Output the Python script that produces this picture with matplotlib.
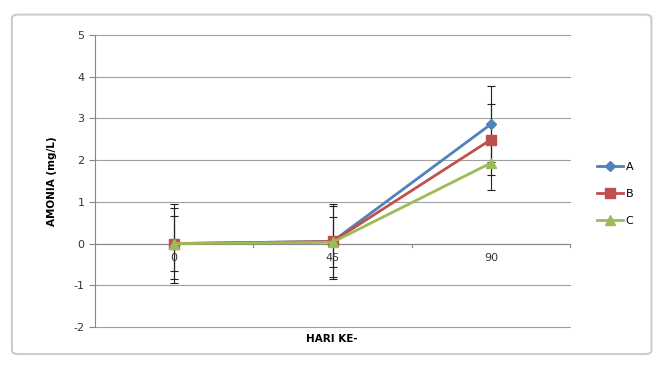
import matplotlib.pyplot as plt
from matplotlib.patches import FancyBboxPatch
from matplotlib.lines import Line2D

plt.rcParams['axes.unicode_minus'] = False

days = ['0', '45', '90']
a_vals = [0.0, 0.05, 2.86]
b_vals = [0.0, 0.05, 2.49]
c_vals = [0.0, 0.03, 1.93]
a_err = [0.95, 0.9, 0.91]
b_err = [0.85, 0.85, 0.85]
c_err = [0.65, 0.6, 0.65]

fig = plt.figure(figsize=(6.62, 3.65), dpi=100)
fig.patches.append(FancyBboxPatch((0.018, 0.03), 0.966, 0.93, boxstyle='round,pad=0,rounding_size=0.01',
                                  transform=fig.transFigure, fc='none', ec='#cccccc', lw=1.5, zorder=-1))
ax = fig.add_axes([95 / 662, 1 - 327 / 365, 475 / 662, 292 / 365])
ax.patch.set_alpha(0)

x = range(len(days))
series = [('A', a_vals, a_err, '#4f81bd', 'D', 5),
          ('B', b_vals, b_err, '#c0504d', 's', 7),
          ('C', c_vals, c_err, '#9bbb59', '^', 7)]
handles = []
for name, vals, err, col, mk, ms in series:
    ax.errorbar(x, vals, yerr=err, color=col, marker=mk, markersize=ms, lw=2,
                ecolor='#222222', elinewidth=0.8, capsize=3, capthick=0.8)
    handles.append(Line2D([], [], color=col, marker=mk, markersize=ms, lw=2, label=name))

ax.set_xlim(-0.5, 2.5)
ax.set_ylim(-2, 5)
ax.set_yticks(range(-2, 6))
for yv in range(-2, 6):
    ax.axhline(yv, color='#a0a0a0', lw=0.8, zorder=0, clip_on=False)
for s in ['top', 'right', 'bottom']:
    ax.spines[s].set_visible(False)
ax.spines['left'].set_color('#888888')
ax.axhline(0, color='#888888', lw=0.8, zorder=0)

ax.set_xticks([])
for i, d in zip(x, days):
    ax.text(i, -0.35, d, ha='center', va='center', fontsize=8, color='#333333')
for t in [0.5, 1.5, 2.5]:
    ax.plot([t, t], [0, -0.08], color='#888888', lw=0.8, clip_on=False)

ax.tick_params(axis='y', labelsize=8, colors='#333333', length=4, color='#888888')
ax.set_ylabel('AMONIA (mg/L)', fontsize=7.5, fontweight='bold', labelpad=12)
fig.text(332 / 662, 1 - 339 / 365, 'HARI KE-', ha='center', va='center', fontsize=7.5, fontweight='bold')

ax.legend(handles=handles, loc='center left', bbox_to_anchor=(1.035, 0.455), frameon=False, fontsize=8,
          handlelength=2.4, handletextpad=0.2, labelspacing=1.55)

fig.savefig('out.png', dpi=100)
